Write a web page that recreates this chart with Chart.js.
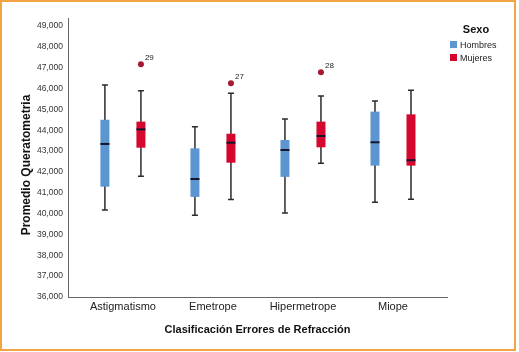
<!DOCTYPE html>
<html>
<head>
<meta charset="utf-8">
<script src="https://cdn.jsdelivr.net/npm/chart.js@4.4.1/dist/chart.umd.min.js"></script>
<style>
  html, body { margin: 0; padding: 0; background: #ffffff; }
  canvas { display: block; }
</style>
</head>
<body>
<canvas id="c" width="519" height="352"></canvas>
<script>
// ---- Data ----
const categories = ['Astigmatismo', 'Emetrope', 'Hipermetrope', 'Miope'];
const seriesNames = ['Hombres', 'Mujeres'];
const legendTitle = 'Sexo';
const xTitle = 'Clasificación Errores de Refracción';
const yTitle = 'Promedio Queratometria';
const yTicks = [36000, 37000, 38000, 39000, 40000, 41000, 42000, 43000, 44000, 45000, 46000, 47000, 48000, 49000];

const hombresMin    = [40170, 39920, 40030, 40540];
const hombresQ1     = [41290, 40800, 41760, 42300];
const hombresMedian = [43340, 41660, 43050, 43420];
const hombresQ3     = [44500, 43130, 43530, 44890];
const hombresMax    = [46170, 44170, 44540, 45400];

const mujeresMin    = [41790, 40670, 42410, 40690];
const mujeresQ1     = [43160, 42440, 43180, 42300];
const mujeresMedian = [44040, 43400, 43720, 42560];
const mujeresQ3     = [44410, 43830, 44410, 44760];
const mujeresMax    = [45890, 45770, 45640, 45910];

const mujeresOutliers   = [47160, 46250, 46780, null];
const mujeresOutlierIds = ['29', '27', '28', null];

// ---- Build chart structures ----
const FONT = "'Liberation Sans', Arial, sans-serif";
const colors = ['#5b96d1', '#d6072f'];

function boxData(q1, q3) {
  return categories.map((c, i) => ({ x: i + 1, y: [q1[i], q3[i]] }));
}

const stats = [
  { min: hombresMin, med: hombresMedian, max: hombresMax, out: [null, null, null, null], ids: [null, null, null, null] },
  { min: mujeresMin, med: mujeresMedian, max: mujeresMax, out: mujeresOutliers, ids: mujeresOutlierIds }
];

const boxPlugin = {
  id: 'boxParts',
  beforeDatasetsDraw(chart) {
    const ctx = chart.ctx;
    const y = chart.scales.y;
    ctx.save();
    ctx.strokeStyle = '#2b2b2b';
    ctx.lineWidth = 1.5;
    chart.data.datasets.forEach((ds, di) => {
      const meta = chart.getDatasetMeta(di);
      const s = stats[di];
      meta.data.forEach((bar, i) => {
        const x = bar.x;
        const yMin = y.getPixelForValue(s.min[i]);
        const yMax = y.getPixelForValue(s.max[i]);
        ctx.beginPath();
        ctx.moveTo(x, yMin); ctx.lineTo(x, yMax);
        ctx.stroke();
        ctx.beginPath();
        ctx.moveTo(x - 3, yMin); ctx.lineTo(x + 3, yMin);
        ctx.moveTo(x - 3, yMax); ctx.lineTo(x + 3, yMax);
        ctx.stroke();
      });
    });
    ctx.restore();
  },
  afterDatasetsDraw(chart) {
    const ctx = chart.ctx;
    const y = chart.scales.y;
    ctx.save();
    chart.data.datasets.forEach((ds, di) => {
      const meta = chart.getDatasetMeta(di);
      const s = stats[di];
      meta.data.forEach((bar, i) => {
        const x = bar.x;
        const w = bar.width;
        const ym = y.getPixelForValue(s.med[i]);
        ctx.strokeStyle = '#15152e';
        ctx.lineWidth = 2;
        ctx.beginPath();
        ctx.moveTo(x - w / 2, ym); ctx.lineTo(x + w / 2, ym);
        ctx.stroke();
        if (s.out[i] != null) {
          const yo = y.getPixelForValue(s.out[i]);
          ctx.fillStyle = '#a51a30';
          ctx.beginPath();
          ctx.arc(x, yo, 3, 0, Math.PI * 2);
          ctx.fill();
          ctx.fillStyle = '#222';
          ctx.font = '8px ' + FONT;
          ctx.textAlign = 'left';
          ctx.textBaseline = 'middle';
          ctx.fillText(s.ids[i], x + 4, yo - 6);
        }
      });
    });
    ctx.restore();
  }
};

const legendPlugin = {
  id: 'sideLegend',
  afterDraw(chart) {
    const ctx = chart.ctx;
    const left = chart.chartArea.right + 3;
    ctx.save();
    ctx.fillStyle = '#111';
    ctx.font = 'bold 11px ' + FONT;
    ctx.textAlign = 'center';
    ctx.textBaseline = 'middle';
    ctx.fillText(legendTitle, left + 26, 30);
    ctx.font = '9px ' + FONT;
    ctx.textAlign = 'left';
    chart.data.datasets.forEach((ds, di) => {
      const yy = 44.5 + di * 13;
      ctx.fillStyle = ds.backgroundColor;
      ctx.fillRect(left, yy - 3.5, 7, 7);
      ctx.fillStyle = '#222';
      ctx.fillText(ds.label, left + 10, yy + 1);
    });
    // y-axis title (SPSS centres it slightly below the plot centre)
    ctx.translate(27, 165);
    ctx.rotate(-Math.PI / 2);
    ctx.fillStyle = '#111';
    ctx.font = 'bold 12px ' + FONT;
    ctx.textAlign = 'center';
    ctx.textBaseline = 'middle';
    ctx.fillText(yTitle, 0, 0);
    ctx.restore();
  }
};

const framePlugin = {
  id: 'frame',
  beforeDraw(chart) {
    const ctx = chart.ctx;
    ctx.save();
    ctx.fillStyle = '#ffffff';
    ctx.fillRect(0, 0, chart.width, chart.height);
    ctx.restore();
  },
  afterDraw(chart) {
    const ctx = chart.ctx;
    ctx.save();
    ctx.strokeStyle = '#f2a444';
    ctx.lineWidth = 2;
    ctx.strokeRect(1, 1, 514, 349);
    ctx.restore();
  }
};

new Chart(document.getElementById('c'), {
  type: 'bar',
  data: {
    datasets: seriesNames.map((name, di) => ({
      label: name,
      data: di === 0 ? boxData(hombresQ1, hombresQ3) : boxData(mujeresQ1, mujeresQ3),
      backgroundColor: colors[di],
      borderWidth: 0,
      categoryPercentage: 0.8,
      barPercentage: 0.25
    }))
  },
  options: {
    responsive: false,
    animation: false,
    events: [],
    layout: { padding: { left: 16, right: 72, top: 18, bottom: 11 } },
    plugins: { legend: { display: false }, tooltip: { enabled: false } },
    scales: {
      x: {
        type: 'linear',
        offset: false,
        min: 0.39,
        max: 4.6,
        grid: { display: false, drawTicks: false },
        border: { display: true, color: '#666', width: 1 },
        afterBuildTicks: (s) => { s.ticks = categories.map((c, i) => ({ value: i + 1 })); },
        afterFit: (s) => { s.height = 44; },
        ticks: {
          padding: 3,
          color: '#222',
          font: { family: FONT, size: 11 },
          callback: (v) => categories[v - 1],
          maxRotation: 0
        },
        title: {
          display: true,
          text: xTitle,
          color: '#111',
          font: { family: FONT, size: 11, weight: 'bold' }
        }
      },
      y: {
        type: 'linear',
        min: 36000,
        max: 49380,
        grid: { display: false, drawTicks: false },
        border: { display: true, color: '#666', width: 1 },
        afterBuildTicks: (s) => { s.ticks = yTicks.map(v => ({ value: v })); },
        afterFit: (s) => { s.width = 52; },
        ticks: {
          padding: 5,
          color: '#333',
          font: { family: FONT, size: 8.5 },
          callback: (v) => v.toLocaleString('en-US')
        },
        title: { display: false }
      }
    }
  },
  plugins: [framePlugin, boxPlugin, legendPlugin]
});
</script>
</body>
</html>
